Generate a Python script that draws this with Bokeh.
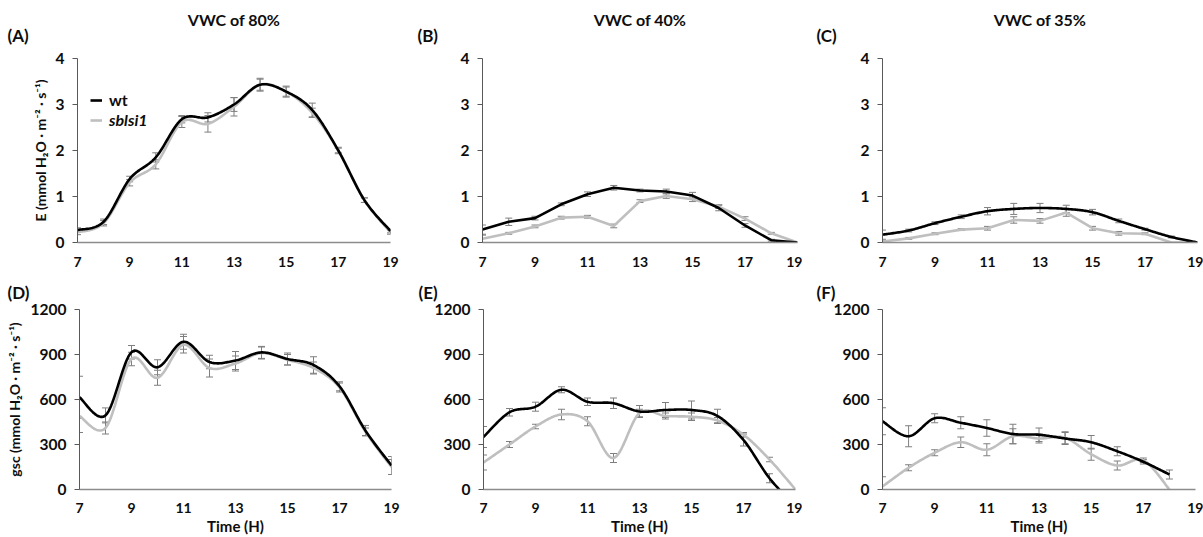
import numpy as np
from bokeh.plotting import figure
from bokeh.layouts import row, column
from bokeh.models import (ColumnDataSource, Whisker, TeeHead, Title, Legend,
                          LegendItem, FixedTicker, Range1d)
from bokeh.embed import file_html
from bokeh.resources import INLINE

FONT = "Lato"

hours = [7, 8, 9, 10, 11, 12, 13, 14, 15, 16, 17, 18, 19]
x_ticks = [7, 9, 11, 13, 15, 17, 19]
e_ticks = [0, 1, 2, 3, 4]
g_ticks = [0, 300, 600, 900, 1200]
titles = ["VWC of 80%", "VWC of 40%", "VWC of 35%"]
panel_tags = ["(A)", "(B)", "(C)", "(D)", "(E)", "(F)"]
series_names = ["wt", "sblsi1"]

# --- Transpiration E (mmol H2O m-2 s-1) ---
E80_wt = [0.27, 0.45, 1.38, 1.85, 2.68, 2.72, 3.00, 3.43, 3.28, 2.88, 2.00, 0.92, 0.25]
E80_wt_err = [0.05, 0.06, 0.06, 0.10, 0.08, 0.10, 0.15, 0.12, 0.10, 0.15, 0.07, 0.05, 0.04]
E80_sb = [0.22, 0.42, 1.30, 1.70, 2.62, 2.58, 2.95, 3.43, 3.28, 2.82, 2.00, 0.92, 0.22]
E80_sb_err = [0.05, 0.06, 0.07, 0.10, 0.12, 0.18, 0.20, 0.14, 0.12, 0.10, 0.05, 0.05, 0.04]

E40_wt = [0.28, 0.45, 0.53, 0.83, 1.05, 1.19, 1.13, 1.11, 1.02, 0.75, 0.37, 0.05, 0.00]
E40_wt_err = [0.10, 0.08, 0.04, 0.03, 0.05, 0.05, 0.03, 0.05, 0.07, 0.06, 0.04, 0.02, 0.00]
E40_sb = [0.08, 0.20, 0.35, 0.54, 0.56, 0.36, 0.90, 1.01, 0.94, 0.78, 0.52, 0.20, 0.00]
E40_sb_err = [0.08, 0.02, 0.03, 0.03, 0.03, 0.04, 0.03, 0.05, 0.05, 0.04, 0.04, 0.02, 0.00]

E35_wt = [0.17, 0.26, 0.42, 0.56, 0.68, 0.73, 0.75, 0.73, 0.66, 0.47, 0.29, 0.12, 0.00]
E35_wt_err = [0.10, 0.03, 0.03, 0.04, 0.08, 0.12, 0.10, 0.08, 0.06, 0.04, 0.02, 0.02, 0.00]
E35_sb = [0.02, 0.09, 0.19, 0.28, 0.31, 0.49, 0.47, 0.65, 0.31, 0.20, 0.19, 0.00, 0.00]
E35_sb_err = [0.02, 0.02, 0.02, 0.02, 0.04, 0.07, 0.05, 0.08, 0.04, 0.04, 0.02, 0.00, 0.00]

# --- Stomatal conductance gsc (mmol H2O m-2 s-1) ---
G80_wt = [615, 494, 915, 815, 985, 850, 860, 914, 870, 830, 688, 392, 160]
G80_wt_err = [140, 50, 45, 50, 50, 45, 60, 40, 40, 55, 30, 35, 60]
G80_sb = [490, 410, 870, 745, 965, 810, 840, 910, 865, 810, 680, 385, 150]
G80_sb_err = [110, 40, 45, 50, 55, 60, 50, 40, 35, 40, 30, 25, 50]

G40_wt = [350, 515, 552, 665, 585, 575, 520, 530, 530, 490, 330, 75, -110]
G40_wt_err = [70, 25, 30, 20, 25, 35, 40, 50, 60, 45, 40, 30, None]
G40_sb = [180, 300, 420, 500, 455, 210, 510, 490, 485, 460, 365, 200, 0]
G40_sb_err = [50, 20, 15, 35, 30, 30, 25, 20, 25, 20, 15, 15, None]

G35_wt = [455, 355, 475, 445, 410, 370, 365, 340, 315, 255, 185, 100, None]
G35_wt_err = [90, 70, 30, 40, 55, 65, 45, 40, 45, 30, 15, 30, None]
G35_sb = [20, 145, 245, 315, 265, 355, 340, 345, 235, 160, 195, 0, None]
G35_sb_err = [65, 20, 20, 35, 40, 50, 30, 40, 40, 30, 15, None, None]

WT_COLOR = "#000000"
SB_COLOR = "#bfbfbf"
ERR_COLOR = "#7f7f7f"
TEXT_COLOR = "#0d0d0d"


def excel_smooth(xs, ys, n=24):
    pts = np.array(list(zip(xs, ys)), dtype=float)
    out = [pts[0]]
    for i in range(len(pts) - 1):
        p0 = pts[i - 1] if i > 0 else pts[i]
        p1 = pts[i]
        p2 = pts[i + 1]
        p3 = pts[i + 2] if i + 2 < len(pts) else pts[i + 1]
        c1 = p1 + (p2 - p0) / 6.0
        c2 = p2 - (p3 - p1) / 6.0
        for t in np.linspace(0, 1, n)[1:]:
            b = ((1 - t) ** 3) * p1 + 3 * ((1 - t) ** 2) * t * c1 + 3 * (1 - t) * t * t * c2 + t ** 3 * p2
            out.append(b)
    out = np.array(out)
    return out[:, 0], out[:, 1]


def valid(xs, ys):
    pairs = [(x, y) for x, y in zip(xs, ys) if y is not None]
    return [p[0] for p in pairs], [p[1] for p in pairs]


def add_series(p, ys, errs, color, smooth):
    xs, yv = valid(hours, ys)
    if smooth:
        sx, sy = excel_smooth(xs, yv)
    else:
        sx, sy = xs, yv
    r = p.line(sx, sy, line_color=color, line_width=2.6, line_join="round")
    ex, lo, hi = [], [], []
    for x, y, e in zip(hours, ys, errs):
        if y is None or e is None or e == 0:
            continue
        ex.append(x)
        lo.append(y - e)
        hi.append(y + e)
    src = ColumnDataSource(dict(x=ex, lower=lo, upper=hi))
    w = Whisker(source=src, base="x", lower="lower", upper="upper",
                line_color=ERR_COLOR, line_width=1,
                upper_head=TeeHead(size=7, line_color=ERR_COLOR, line_width=1),
                lower_head=TeeHead(size=7, line_color=ERR_COLOR, line_width=1))
    p.add_layout(w)
    return r


def make_panel(idx, wt, wt_err, sb, sb_err, top, yticks, smooth_wt, smooth_sb,
               height, border_top, border_bottom, bl, br, tag_off, tag_standoff,
               ylabel=None, xlabel=None, title=None, title_off=0):
    p = figure(width=401, height=height, x_range=Range1d(7, 19),
               y_range=Range1d(0, top), output_backend="svg",
               toolbar_location=None, min_border_left=bl, min_border_right=br,
               min_border_top=border_top, min_border_bottom=border_bottom)
    p.outline_line_color = None
    p.xgrid.visible = False
    p.ygrid.visible = False
    p.background_fill_color = "white"
    p.border_fill_color = "white"

    xa = p.xaxis[0]
    xa.ticker = FixedTicker(ticks=x_ticks)
    xa.axis_line_color = "#8c8c8c"
    xa.axis_line_width = 1.5
    xa.major_tick_line_color = None
    xa.minor_tick_line_color = None
    xa.major_label_text_font = FONT
    xa.major_label_text_font_style = "bold"
    xa.major_label_text_font_size = "14px"
    xa.major_label_text_color = TEXT_COLOR
    xa.major_label_standoff = 8 if xlabel is None else 7

    ya = p.yaxis[0]
    ya.ticker = FixedTicker(ticks=yticks)
    ya.axis_line_color = "#595959"
    ya.axis_line_width = 1
    ya.major_tick_line_color = "#595959"
    ya.major_tick_out = 5
    ya.major_tick_in = 0
    ya.minor_tick_line_color = None
    ya.major_label_text_font = FONT
    ya.major_label_text_font_style = "bold"
    ya.major_label_text_font_size = "15.5px"
    ya.major_label_text_color = TEXT_COLOR
    ya.major_label_standoff = 8

    if ylabel:
        ya.axis_label = ylabel
        ya.axis_label_text_font = FONT
        ya.axis_label_text_font_style = "bold"
        ya.axis_label_text_font_size = "14px"
        ya.axis_label_text_color = TEXT_COLOR
        ya.axis_label_standoff = 4 if top < 10 else 5
    if xlabel:
        xa.axis_label = xlabel
        xa.axis_label_text_font = FONT
        xa.axis_label_text_font_style = "bold"
        xa.axis_label_text_font_size = "15px"
        xa.axis_label_text_color = TEXT_COLOR
        xa.axis_label_standoff = 1

    r_sb = add_series(p, sb, sb_err, SB_COLOR, smooth_sb)
    r_wt = add_series(p, wt, wt_err, WT_COLOR, smooth_wt)

    p.add_layout(Title(text=panel_tags[idx], align="left", offset=tag_off,
                       standoff=tag_standoff, text_font=FONT, text_font_style="bold",
                       text_font_size="17px", text_color=TEXT_COLOR), "above")
    if title:
        p.add_layout(Title(text=title, align="center", offset=title_off, standoff=-36,
                           text_font=FONT, text_font_style="bold",
                           text_font_size="16px", text_color=TEXT_COLOR), "above")
    return p, r_wt, r_sb


pA, rwt, rsb = make_panel(0, E80_wt, E80_wt_err, E80_sb, E80_sb_err, 4, e_ticks, True, True,
                          270, 58, 28, 77, 11, -70, 25,
                          ylabel="E (mmol H\u2082O \u00b7 m\u207b\u00b2 \u00b7 s\u207b\u00b9)",
                          title=titles[0], title_off=7)
pB, _, _ = make_panel(1, E40_wt, E40_wt_err, E40_sb, E40_sb_err, 4, e_ticks, False, False,
                      270, 58, 28, 81, 5, -65, 25, title=titles[1], title_off=-12)
pC, _, _ = make_panel(2, E35_wt, E35_wt_err, E35_sb, E35_sb_err, 4, e_ticks, True, False,
                      270, 58, 28, 80, 6, -66, 25, title=titles[2], title_off=-15)
pD, _, _ = make_panel(3, G80_wt, G80_wt_err, G80_sb, G80_sb_err, 1200, g_ticks, True, True,
                      267, 39, 47, 79, 10, -72, 14,
                      ylabel="gsc (mmol H\u2082O \u00b7 m\u207b\u00b2 \u00b7 s\u207b\u00b9)",
                      xlabel="Time (H)")
pE, _, _ = make_panel(4, G40_wt, G40_wt_err, G40_sb, G40_sb_err, 1200, g_ticks, True, True,
                      267, 39, 47, 82, 7, -65, 14, xlabel="Time (H)")
pF, _, _ = make_panel(5, G35_wt, G35_wt_err, G35_sb, G35_sb_err, 1200, g_ticks, True, True,
                      267, 39, 47, 80, 8, -66, 14, xlabel="Time (H)")

# legend (panel A)
dot_wt = pA.scatter(x=[], y=[], marker="circle", size=5, color=WT_COLOR)
dot_sb = pA.scatter(x=[], y=[], marker="circle", size=5, color=SB_COLOR)
for name, rs, style, loc in [(series_names[0], [rwt, dot_wt], "bold", (13, 133)),
                             (series_names[1], [rsb, dot_sb], "bold italic", (13, 113))]:
    lg = Legend(items=[LegendItem(label=name, renderers=rs)], location=loc,
                label_text_font=FONT, label_text_font_style=style,
                label_text_font_size="16px", label_text_color=TEXT_COLOR,
                glyph_width=12, glyph_height=14, label_standoff=7, padding=0,
                margin=0, border_line_alpha=0, background_fill_alpha=0)
    pA.add_layout(lg)

layout = column(row(pA, pB, pC), row(pD, pE, pF))
open("out.html", "w").write(file_html(layout, INLINE))
